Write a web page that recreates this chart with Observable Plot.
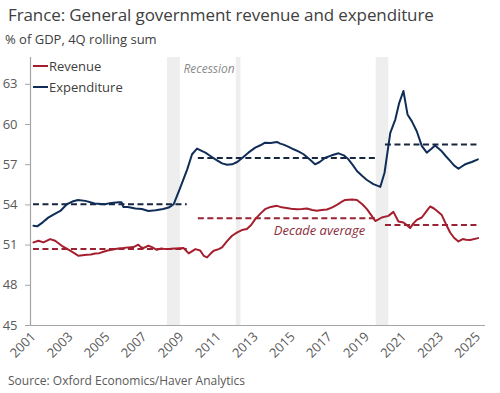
<!DOCTYPE html>
<html><head><meta charset="utf-8">
<script src="https://cdn.jsdelivr.net/npm/d3@7"></script>
<script src="https://cdn.jsdelivr.net/npm/@observablehq/plot@0.6"></script>
<style>
body{margin:0;background:#fff;font-family:"Open Sans",sans-serif;}
#wrap{position:relative;width:500px;height:393px;overflow:hidden;background:#fff}
#title{position:absolute;left:8px;top:3px;font-size:17px;color:#404040;white-space:nowrap;letter-spacing:-0.1px}
#sub{position:absolute;left:5px;top:30px;font-size:13px;color:#404040;white-space:nowrap}
#chart{position:absolute;left:0;top:48px}
#source{position:absolute;left:8px;top:372px;font-size:12px;color:#595959;white-space:nowrap}
.leg{position:absolute;left:33px;font-size:13px;color:#404040;display:flex;align-items:center;white-space:nowrap}
.leg span.sw{display:inline-block;width:15px;height:2px;margin-right:1px}
</style></head>
<body>
<div id="wrap">
  <div id="title">France: General government revenue and expenditure</div>
  <div id="sub">% of GDP, 4Q rolling sum</div>
  <div id="chart"></div>
  <div class="leg" style="top:57px"><span class="sw" style="background:#a51e2e"></span>Revenue</div>
  <div class="leg" style="top:78px"><span class="sw" style="background:#0f2d57"></span>Expenditure</div>
  <div id="source">Source: Oxford Economics/Haver Analytics</div>
</div>
<script>
// Expenditure, % of GDP (time in fractional years)
const expYears = [2001.0,2001.2,2001.5,2001.8,2002.1,2002.45,2002.8,2003.1,2003.4,2003.8,2004.3,2004.85,2005.2,2005.6,2005.75,2005.85,2006.1,2006.5,2006.85,2007.2,2007.6,2008.0,2008.3,2008.57,2008.93,2009.3,2009.56,2009.83,2010.05,2010.28,2010.55,2010.82,2011.18,2011.45,2011.72,2012.0,2012.25,2012.6,2012.97,2013.25,2013.5,2013.8,2014.14,2014.32,2014.5,2014.75,2015.04,2015.3,2015.58,2015.9,2016.2,2016.45,2016.75,2017.1,2017.47,2017.75,2018.0,2018.25,2018.46,2018.75,2019.0,2019.35,2019.72,2019.95,2020.26,2020.53,2020.74,2020.97,2021.19,2021.42,2021.69,2021.96,2022.23,2022.45,2022.68,2023.04,2023.25,2023.49,2023.7,2023.94,2024.1,2024.3,2024.66,2024.99];
const expValues = [52.45,52.4,52.7,53.05,53.3,53.55,54.05,54.25,54.37,54.3,54.1,54.05,54.15,54.2,54.2,53.85,53.85,53.73,53.7,53.55,53.6,53.7,53.8,54.05,55.3,56.65,57.78,58.2,58.05,57.9,57.65,57.4,57.1,57.0,57.03,57.2,57.48,57.9,58.27,58.45,58.64,58.62,58.7,58.57,58.5,58.35,58.15,58.0,57.78,57.4,57.03,57.2,57.52,57.7,57.85,57.7,57.4,56.95,56.53,56.15,55.86,55.55,55.34,56.4,59.38,60.37,61.6,62.5,60.75,60.25,59.5,58.4,57.9,58.15,58.44,58.0,57.65,57.28,56.95,56.7,56.85,57.03,57.2,57.4];

// Revenue, % of GDP
const revYears = [2001.0,2001.27,2001.54,2001.9,2002.17,2002.53,2002.98,2003.2,2003.43,2003.65,2003.88,2004.1,2004.33,2004.55,2004.78,2005.0,2005.22,2005.58,2005.85,2006.12,2006.4,2006.66,2006.8,2006.93,2007.2,2007.4,2007.65,2007.9,2008.12,2008.4,2008.66,2009.1,2009.38,2009.74,2010.0,2010.19,2010.37,2010.55,2010.73,2011.0,2011.18,2011.45,2011.72,2012.0,2012.25,2012.52,2012.75,2012.97,2013.25,2013.5,2013.8,2014.14,2014.32,2014.5,2014.9,2015.22,2015.5,2015.76,2016.05,2016.3,2016.55,2016.84,2017.1,2017.38,2017.6,2017.83,2018.2,2018.46,2018.75,2019.0,2019.25,2019.45,2019.6,2019.8,2020.16,2020.43,2020.7,2020.97,2021.15,2021.33,2021.5,2021.69,2021.96,2022.2,2022.41,2022.6,2022.77,2023.04,2023.31,2023.49,2023.7,2023.94,2024.17,2024.35,2024.57,2025.0];
const revValues = [51.2,51.32,51.2,51.45,51.32,50.95,50.58,50.4,50.2,50.25,50.28,50.3,50.38,50.4,50.5,50.6,50.65,50.75,50.78,50.83,50.85,51.03,50.85,50.78,50.95,50.85,50.65,50.75,50.7,50.72,50.75,50.78,50.38,50.7,50.6,50.2,50.08,50.35,50.58,50.7,50.83,51.3,51.7,51.95,52.12,52.2,52.5,52.94,53.35,53.68,53.85,53.93,53.85,53.8,53.72,53.68,53.7,53.73,53.62,53.56,53.62,53.66,53.8,54.0,54.2,54.37,54.4,54.37,54.05,53.68,53.2,52.8,52.9,53.06,53.18,53.48,52.76,52.69,52.5,52.27,52.6,52.88,53.06,53.5,53.88,53.75,53.56,53.24,52.44,51.94,51.55,51.27,51.45,51.4,51.38,51.52];

// Decade averages
const avgStart = [2001.0, 2009.9, 2020.0];
const avgEnd   = [2009.3, 2019.55, 2025.0];
const expAvg   = [54.05, 57.5, 58.5];
const revAvg   = [50.7, 53.0, 52.5];

// Recessions
const recStart = [2008.23, 2011.95, 2019.5];
const recEnd   = [2008.93, 2012.2, 2020.18];

// Axes
const yTicks = [45, 48, 51, 54, 57, 60, 63];
const xTicks = [2001,2003,2005,2007,2009,2011,2013,2015,2017,2019,2021,2023,2025];
const xDomain = [2000.84, 2025.4];
const yDomain = [45, 65];

const exp = expYears.map((t, i) => ({t, v: expValues[i]}));
const rev = revYears.map((t, i) => ({t, v: revValues[i]}));
const avgs = [
  ...avgStart.map((s, i) => ({s, e: avgEnd[i], v: expAvg[i], k: "exp"})),
  ...avgStart.map((s, i) => ({s, e: avgEnd[i], v: revAvg[i], k: "rev"}))
];
const recs = recStart.map((s, i) => ({s, e: recEnd[i]}));

const REV = "#a51e2e", EXP = "#0f2d57";

const chart = Plot.plot({
  width: 500, height: 324,
  marginTop: 9, marginBottom: 47, marginLeft: 30, marginRight: 15,
  style: {fontFamily: "'Open Sans', sans-serif", color: "#595959", background: "transparent"},
  x: {domain: xDomain, axis: null},
  y: {domain: yDomain, axis: null},
  marks: [
    Plot.rect(recs, {x1: "s", x2: "e", fill: "#eeeeee"}),
    Plot.text(["Recession"], {x: [recEnd[0]], frameAnchor: "top", textAnchor: "start", dx: 3, dy: 7,
      fontStyle: "italic", fill: "#8a8a8a", fontSize: 12}),
    Plot.ruleX([xDomain[0]], {stroke: "#a6a6a6", strokeWidth: 1.2}),
    Plot.ruleY([yDomain[0]], {stroke: "#a6a6a6", strokeWidth: 1.2}),
    Plot.axisY({ticks: yTicks, label: null, tickSize: 5, tickPadding: 8, fontSize: 13, stroke: "#a6a6a6", fill: "#595959"}),
    Plot.axisX({ticks: xTicks, label: null, tickFormat: d => String(d), tickRotate: -45, tickSize: 0, tickPadding: 9, fontSize: 13, fill: "#595959"}),
    Plot.ruleY(avgs.filter(d => d.k === "exp"), {y: "v", x1: "s", x2: "e", stroke: "#17263f", strokeWidth: 2, strokeDasharray: "6,3.5"}),
    Plot.ruleY(avgs.filter(d => d.k === "rev"), {y: "v", x1: "s", x2: "e", stroke: "#9a2333", strokeWidth: 2, strokeDasharray: "6,3.5"}),
    Plot.line(rev, {x: "t", y: "v", stroke: REV, strokeWidth: 2}),
    Plot.line(exp, {x: "t", y: "v", stroke: EXP, strokeWidth: 2}),
    Plot.text(["Decade average"], {x: [avgEnd[1]], y: [revAvg[1]], textAnchor: "end", dx: -12, dy: 13,
      fontStyle: "italic", fill: "#8c2d3c", fontSize: 13})
  ]
});
document.getElementById("chart").appendChild(chart);
</script>
</body></html>
